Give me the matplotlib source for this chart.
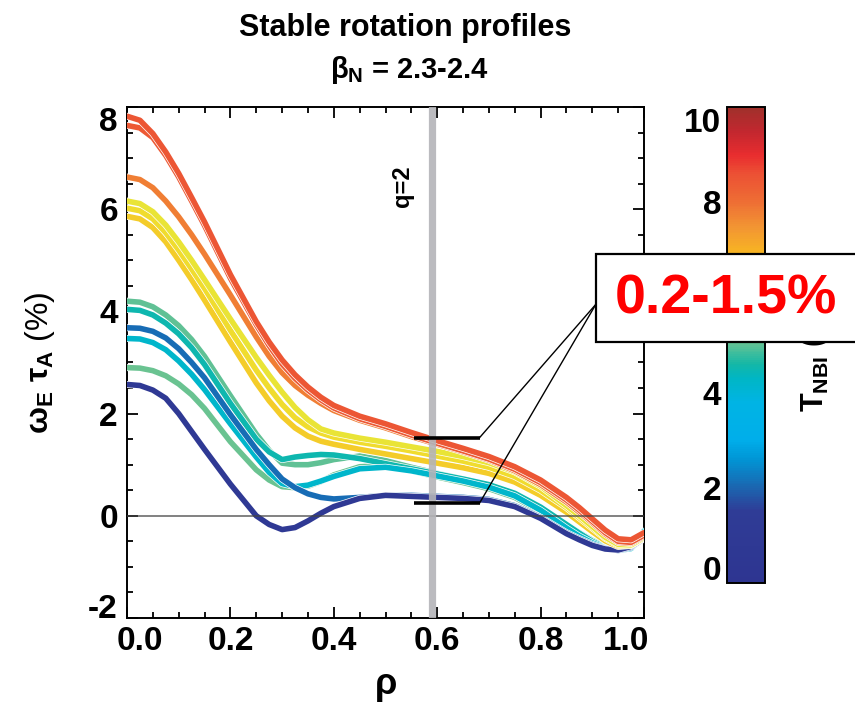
import numpy as np
import matplotlib
matplotlib.use('Agg')
import matplotlib.pyplot as plt
from matplotlib.colors import LinearSegmentedColormap, Normalize
from matplotlib.patches import Rectangle
import matplotlib.patheffects as pe
from matplotlib.ticker import MultipleLocator, FixedLocator, FuncFormatter
from matplotlib.cm import ScalarMappable

plt.rcParams['font.family'] = ['Liberation Sans', 'DejaVu Sans']
plt.rcParams['font.weight'] = 'bold'
plt.rcParams['mathtext.fontset'] = 'custom'
plt.rcParams['mathtext.rm'] = 'Liberation Sans'
plt.rcParams['mathtext.it'] = 'Liberation Sans'
plt.rcParams['mathtext.bf'] = 'Liberation Sans:bold'
plt.rcParams['mathtext.sf'] = 'Liberation Sans'

# ---------------- data ----------------
rho = [0.0, 0.025, 0.05, 0.075, 0.1, 0.125, 0.15, 0.2, 0.25, 0.275, 0.3, 0.325,
       0.35, 0.375, 0.4, 0.45, 0.5, 0.55, 0.6, 0.65, 0.7, 0.75, 0.8, 0.85,
       0.875, 0.9, 0.925, 0.95, 0.975, 1.0]

curve_A = [7.82, 7.74, 7.48, 7.12, 6.70, 6.23, 5.75, 4.72, 3.80, 3.40, 3.05, 2.76,
           2.52, 2.32, 2.16, 1.95, 1.80, 1.63, 1.47, 1.32, 1.16, 0.96, 0.70, 0.36,
           0.16, -0.06, -0.28, -0.45, -0.47, -0.33]
curve_B = [7.64, 7.59, 7.40, 7.05, 6.63, 6.16, 5.68, 4.65, 3.74, 3.33, 2.97, 2.69,
           2.46, 2.27, 2.11, 1.90, 1.75, 1.58, 1.42, 1.27, 1.11, 0.91, 0.65, 0.31,
           0.11, -0.11, -0.33, -0.50, -0.52, -0.38]
curve_C = [6.63, 6.58, 6.42, 6.16, 5.85, 5.50, 5.12, 4.32, 3.50, 3.12, 2.80, 2.55,
           2.36, 2.20, 2.06, 1.87, 1.72, 1.55, 1.40, 1.25, 1.09, 0.88, 0.61, 0.27,
           0.07, -0.14, -0.36, -0.52, -0.54, -0.40]
curve_D = [6.16, 6.11, 5.95, 5.69, 5.36, 5.00, 4.62, 3.85, 3.10, 2.75, 2.42, 2.12,
           1.88, 1.70, 1.62, 1.52, 1.44, 1.35, 1.26, 1.16, 1.04, 0.86, 0.58, 0.20,
           0.00, -0.21, -0.42, -0.56, -0.57, -0.42]
curve_E = [6.02, 5.97, 5.81, 5.54, 5.20, 4.83, 4.45, 3.63, 2.85, 2.50, 2.18, 1.92,
           1.74, 1.62, 1.54, 1.44, 1.36, 1.27, 1.17, 1.07, 0.95, 0.77, 0.50, 0.16,
           -0.04, -0.24, -0.44, -0.58, -0.58, -0.43]
curve_F = [5.86, 5.81, 5.64, 5.36, 5.00, 4.62, 4.22, 3.40, 2.60, 2.25, 1.95, 1.72,
           1.56, 1.46, 1.40, 1.30, 1.21, 1.12, 1.03, 0.94, 0.83, 0.66, 0.40, 0.07,
           -0.12, -0.31, -0.49, -0.60, -0.58, -0.44]
curve_G = [4.20, 4.18, 4.09, 3.93, 3.72, 3.45, 3.12, 2.35, 1.60, 1.28, 1.03, 1.00,
           1.00, 1.04, 1.10, 1.17, 1.08, 0.95, 0.83, 0.72, 0.60, 0.43, 0.16, -0.17,
           -0.33, -0.48, -0.60, -0.67, -0.64, -0.42]
curve_H = [4.04, 4.02, 3.93, 3.77, 3.56, 3.29, 2.96, 2.20, 1.50, 1.25, 1.10, 1.15,
           1.18, 1.20, 1.19, 1.12, 1.02, 0.92, 0.82, 0.72, 0.61, 0.44, 0.17, -0.17,
           -0.34, -0.50, -0.62, -0.68, -0.64, -0.35]
curve_I = [3.68, 3.67, 3.61, 3.48, 3.27, 3.00, 2.70, 1.98, 1.30, 1.00, 0.72, 0.55,
           0.43, 0.36, 0.33, 0.36, 0.40, 0.40, 0.38, 0.36, 0.32, 0.20, -0.03, -0.33,
           -0.45, -0.56, -0.64, -0.68, -0.62, -0.42]
curve_J = [3.47, 3.46, 3.39, 3.25, 3.03, 2.77, 2.47, 1.80, 1.15, 0.85, 0.63, 0.57,
           0.60, 0.68, 0.77, 0.92, 0.95, 0.88, 0.78, 0.68, 0.56, 0.39, 0.11, -0.24,
           -0.40, -0.53, -0.63, -0.68, -0.64, -0.30]
curve_K = [2.90, 2.89, 2.84, 2.74, 2.58, 2.37, 2.10, 1.45, 0.90, 0.70, 0.57, 0.55,
           0.58, 0.67, 0.80, 0.96, 0.98, 0.88, 0.76, 0.65, 0.53, 0.36, 0.08, -0.25,
           -0.40, -0.53, -0.62, -0.66, -0.62, -0.40]
curve_L = [2.57, 2.55, 2.46, 2.30, 2.00, 1.65, 1.30, 0.62, 0.00, -0.17, -0.27, -0.23,
           -0.10, 0.05, 0.18, 0.34, 0.40, 0.38, 0.36, 0.34, 0.30, 0.18, -0.05, -0.35,
           -0.47, -0.58, -0.65, -0.67, -0.60, -0.45]

# NBI torque (colour value) of each profile, in drawing order
curves = [curve_K, curve_G, curve_H, curve_J, curve_I, curve_L,
          curve_F, curve_E, curve_D, curve_C, curve_B, curve_A]
torque = [5.1, 5.0, 4.5, 4.2, 2.1, 0.8,
          6.6, 6.35, 6.15, 7.8, 8.4, 8.5]

x_ticks = [0.0, 0.2, 0.4, 0.6, 0.8, 1.0]
y_ticks = [-2, 0, 2, 4, 6, 8]
cb_ticks = [0, 2, 4, 8, 10]   # the "6" label is hidden under the callout box
q2_rho = 0.59
callout_low = 0.25
callout_high = 1.53

# ---------------- colormap ----------------
nodes = [(0.0, '#2e3591'), (1.5, '#2f3c96'), (2.0, '#1b66b0'), (2.6, '#0096d6'),
         (3.0, '#00aeea'), (3.8, '#00b4e4'), (4.3, '#00b6c4'), (4.6, '#14b7a6'),
         (5.0, '#5ec196'), (5.6, '#a5d07a'), (6.2, '#eee631'), (6.9, '#f8b722'),
         (7.5, '#f29433'), (8.0, '#ee6f34'), (8.6, '#ec5134'), (9.0, '#e92d2f'),
         (9.5, '#c2272f'), (10.0, '#a0302b')]
cmap = LinearSegmentedColormap.from_list('tnbi', [(v / 10.0, c) for v, c in nodes])
norm = Normalize(0, 10)

# ---------------- figure ----------------
fig = plt.figure(figsize=(8.55, 7.03), dpi=100)
ax = fig.add_axes([127 / 855, 1 - 618 / 703, 517 / 855, 511 / 703])

for vals, t in zip(curves, torque):
    ax.plot(rho, vals, color=cmap(norm(t)), lw=4.0, solid_capstyle='round',
            solid_joinstyle='round', zorder=3,
            path_effects=[pe.Stroke(linewidth=5.0, foreground='white'), pe.Normal()])

ax.axhline(0, color='#444444', lw=1.1, zorder=5, alpha=0.85)
ax.axvline(q2_rho, color='#b4b4b8', lw=5.2, zorder=6, alpha=0.9)
ax.text(0.532, 6.45, 'q=2', rotation=90, ha='center', va='center', fontsize=17,
        fontweight='bold', zorder=7)

# callout marks
ax.plot([0.555, 0.682], [callout_high, callout_high], color='black', lw=2.6, zorder=8,
        solid_capstyle='butt')
ax.plot([0.555, 0.682], [callout_low, callout_low], color='black', lw=2.6, zorder=8,
        solid_capstyle='butt')
ax.plot([0.682, 0.907], [callout_high, 4.14], color='black', lw=1.0, zorder=8)
ax.plot([0.682, 0.907], [callout_low, 4.14], color='black', lw=1.0, zorder=8)

ax.set_xlim(0, 1)
ax.set_ylim(-2, 8)
ax.xaxis.set_major_locator(FixedLocator(x_ticks))
ax.xaxis.set_minor_locator(MultipleLocator(0.05))
ax.yaxis.set_major_locator(FixedLocator(y_ticks))
ax.yaxis.set_minor_locator(MultipleLocator(0.5))
ax.xaxis.set_major_formatter(FuncFormatter(
    lambda v, p: '' if (v <= 0.001 or v >= 0.999) else f'{v:.1f}'))
ax.yaxis.set_major_formatter(FuncFormatter(
    lambda v, p: '' if (v <= -1.999 or v >= 7.999) else f'{v:g}'))
ax.tick_params(which='both', direction='in', top=True, right=True, width=1.3)
ax.tick_params(which='major', length=8, labelsize=24)
ax.tick_params(which='minor', length=4.5)
ax.tick_params(axis='x', pad=6)
ax.tick_params(axis='y', pad=6.5)
for s in ax.spines.values():
    s.set_linewidth(1.4)
for lab in ax.get_xticklabels() + ax.get_yticklabels():
    lab.set_fontweight('bold')

# end labels shifted inward
ax.annotate('0.0', xy=(0, 0), xycoords='axes fraction', xytext=(9.5, -6),
            textcoords='offset points', ha='center', va='top', fontsize=24, fontweight='bold')
ax.annotate('1.0', xy=(1, 0), xycoords='axes fraction', xytext=(-13, -6),
            textcoords='offset points', ha='center', va='top', fontsize=24, fontweight='bold')
ax.annotate('8', xy=(0, 1), xycoords='axes fraction', xytext=(-6.5, -11),
            textcoords='offset points', ha='right', va='center', fontsize=24, fontweight='bold')
ax.annotate('-2', xy=(0, 0), xycoords='axes fraction', xytext=(-6.5, 6),
            textcoords='offset points', ha='right', va='center', fontsize=24, fontweight='bold')

ax.set_xlabel(r'$\rho$', fontsize=26)
ax.xaxis.set_label_coords(0.5, -0.1)
ax.set_ylabel(r'$\omega_{\mathbf{E}}\ \tau_{\mathbf{A}}$ (%)', fontsize=23)
ax.yaxis.set_label_coords(-0.135, 0.5)

# titles
fig.text(405 / 855, 1 - 28 / 703, 'Stable rotation profiles', ha='center', va='center',
         fontsize=22, fontweight='bold')
fig.text(410 / 855, 1 - 70 / 703, r'$\beta_{\mathbf{N}}$ = 2.3-2.4', ha='center',
         va='center', fontsize=21, fontweight='bold')

# colorbar
cax = fig.add_axes([727 / 855, 1 - 583 / 703, 38 / 855, 476 / 703])
sm = ScalarMappable(norm=norm, cmap=cmap)
cb = fig.colorbar(sm, cax=cax)
cb.outline.set_linewidth(1.4)
cax.yaxis.set_ticks_position('left')
cax.yaxis.set_major_locator(FixedLocator(cb_ticks))
cax.yaxis.set_major_formatter(FuncFormatter(
    lambda v, p: '' if (v <= 0.001 or v >= 9.999) else f'{v:g}'))
cax.tick_params(length=0, labelsize=24, pad=4)
for lab in cax.get_yticklabels():
    lab.set_fontweight('bold')
cax.annotate('10', xy=(0, 1), xycoords='axes fraction', xytext=(-4, -12),
             textcoords='offset points', ha='right', va='center', fontsize=24, fontweight='bold')
cax.annotate('0', xy=(0, 0), xycoords='axes fraction', xytext=(-4, 8),
             textcoords='offset points', ha='right', va='center', fontsize=24, fontweight='bold')
cax.yaxis.set_label_position('right')
cb.set_label(r'T$_{\mathbf{NBI}}$ (Nm)', fontsize=22, fontweight='bold', labelpad=24)

# callout box (covers part of the colorbar label, as in the original)
box = Rectangle((596 / 855, 1 - 342 / 703), 0.32, 88 / 703, transform=fig.transFigure,
                facecolor='white', edgecolor='black', lw=1.6, zorder=10, clip_on=False)
fig.add_artist(box)
fig.text(726 / 855, 1 - 300 / 703, '0.2-1.5%', color='#ff0000', fontsize=40,
         fontweight='bold', ha='center', va='center', zorder=11)

fig.savefig('out.png', dpi=100)
